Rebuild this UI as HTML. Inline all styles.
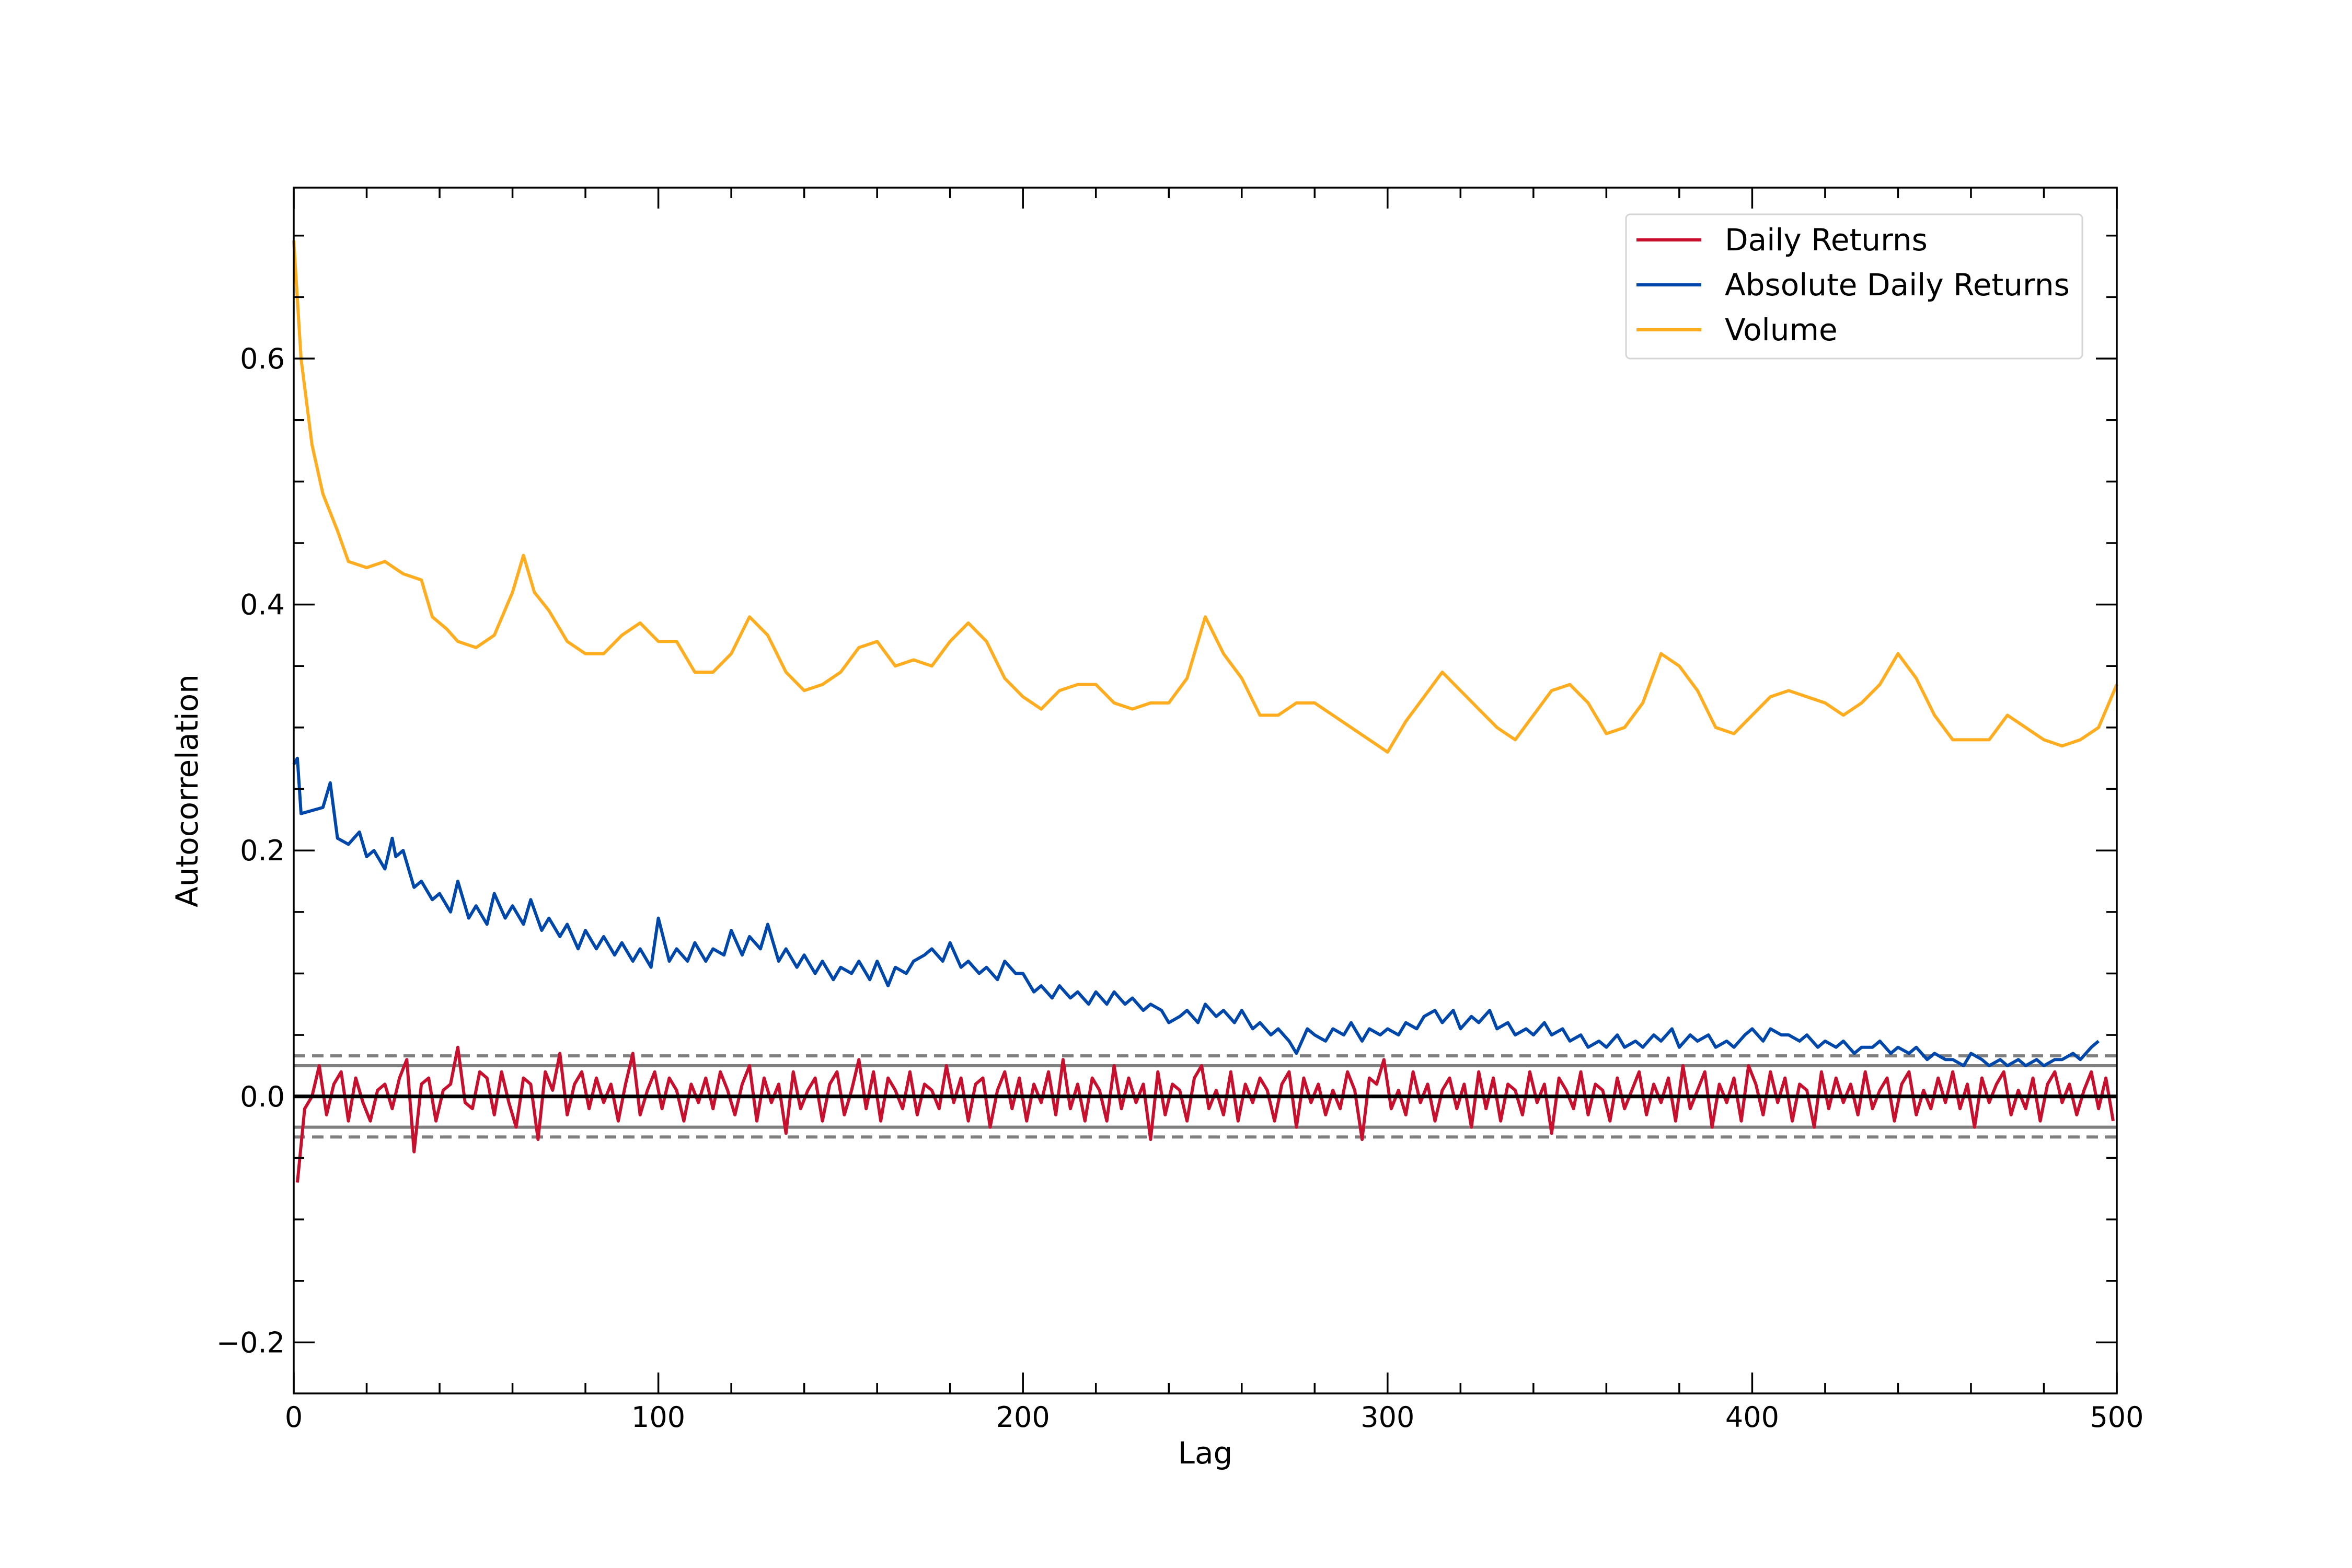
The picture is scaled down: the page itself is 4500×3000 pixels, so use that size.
<!DOCTYPE html>
<html><head><meta charset="utf-8"><style>
html,body{margin:0;padding:0;background:#fff;}
svg{display:block;font-family:"DejaVu Sans","Liberation Sans",sans-serif;}
</style></head><body>
<svg id="chart" width="4500" height="3000" viewBox="0 0 4500 3000" xmlns="http://www.w3.org/2000/svg">
<rect width="4500" height="3000" fill="#fff"/>
<g id="plot"></g>
<text x="2306" y="2800" font-size="58" text-anchor="middle">Lag</text>
<text x="378" y="1513" font-size="58" text-anchor="middle" transform="rotate(-90 378 1513)">Autocorrelation</text>
<g>
<rect x="3111" y="410" width="873" height="276" rx="8" fill="#fff" stroke="#d5d5d5" stroke-width="3"/>
<g><line x1="3131" x2="3255" y1="459" y2="459" stroke="#c8102e" stroke-width="6"/><text x="3300" y="479" font-size="58">Daily Returns</text></g>
<g><line x1="3131" x2="3255" y1="545" y2="545" stroke="#0047ab" stroke-width="6"/><text x="3300" y="565" font-size="58">Absolute Daily Returns</text></g>
<g><line x1="3131" x2="3255" y1="631" y2="631" stroke="#ffad1f" stroke-width="6"/><text x="3300" y="651" font-size="58">Volume</text></g>
</g>
</svg>
<script>
const xTicks = [0,100,200,300,400,500];
const yTicks = [-0.2,0,0.2,0.4,0.6];
const yTickLabels = ["\u22120.2","0.0","0.2","0.4","0.6"];
const volLags = [0,2,5,8,12,15,20,25,30,35,38,42,45,50,55,60,63,66,70,75,80,85,90,95,100,105,110,115,120,125,130,135,140,145,150,155,160,165,170,175,180,185,190,195,200,205,210,215,220,225,230,235,240,245,250,255,260,265,270,275,280,285,290,295,300,305,310,315,320,325,330,335,340,345,350,355,360,365,370,375,380,385,390,395,400,405,410,415,420,425,430,435,440,445,450,455,460,465,470,475,480,485,490,495,500];
const volume = [0.696,0.6,0.53,0.49,0.46,0.435,0.43,0.435,0.425,0.42,0.39,0.38,0.37,0.365,0.375,0.41,0.44,0.41,0.395,0.37,0.36,0.36,0.375,0.385,0.37,0.37,0.345,0.345,0.36,0.39,0.375,0.345,0.33,0.335,0.345,0.365,0.37,0.35,0.355,0.35,0.37,0.385,0.37,0.34,0.325,0.315,0.33,0.335,0.335,0.32,0.315,0.32,0.32,0.34,0.39,0.36,0.34,0.31,0.31,0.32,0.32,0.31,0.3,0.29,0.28,0.305,0.325,0.345,0.33,0.315,0.3,0.29,0.31,0.33,0.335,0.32,0.295,0.3,0.32,0.36,0.35,0.33,0.3,0.295,0.31,0.325,0.33,0.325,0.32,0.31,0.32,0.335,0.36,0.34,0.31,0.29,0.29,0.29,0.31,0.3,0.29,0.285,0.29,0.3,0.335];
const absLags = [0,1,2,8,10,12,15,18,20,22,25,27,28,30,33,35,38,40,43,45,48,50,53,55,58,60,63,65,68,70,73,75,78,80,83,85,88,90,93,95,98,100,103,105,108,110,113,115,118,120,123,125,128,130,133,135,138,140,143,145,148,150,153,155,158,160,163,165,168,170,173,175,178,180,183,185,188,190,193,195,198,200,203,205,208,210,213,215,218,220,223,225,228,230,233,235,238,240,243,245,248,250,253,255,258,260,263,265,268,270,273,275,278,280,283,285,288,290,293,295,298,300,303,305,308,310,313,315,318,320,323,325,328,330,333,335,338,340,343,345,348,350,353,355,358,360,363,365,368,370,373,375,378,380,383,385,388,390,393,395,398,400,403,405,408,410,413,415,418,420,423,425,428,430,433,435,438,440,443,445,448,450,453,455,458,460,463,465,468,470,473,475,478,480,483,485,488,490,493,495,498,500];
const absRet = [0.27,0.275,0.23,0.235,0.255,0.21,0.205,0.215,0.195,0.2,0.185,0.21,0.195,0.2,0.17,0.175,0.16,0.165,0.15,0.175,0.145,0.155,0.14,0.165,0.145,0.155,0.14,0.16,0.135,0.145,0.13,0.14,0.12,0.135,0.12,0.13,0.115,0.125,0.11,0.12,0.105,0.145,0.11,0.12,0.11,0.125,0.11,0.12,0.115,0.135,0.115,0.13,0.12,0.14,0.11,0.12,0.105,0.115,0.1,0.11,0.095,0.105,0.1,0.11,0.095,0.11,0.09,0.105,0.1,0.11,0.115,0.12,0.11,0.125,0.105,0.11,0.1,0.105,0.095,0.11,0.1,0.1,0.085,0.09,0.08,0.09,0.08,0.085,0.075,0.085,0.075,0.085,0.075,0.08,0.07,0.075,0.07,0.06,0.065,0.07,0.06,0.075,0.065,0.07,0.06,0.07,0.055,0.06,0.05,0.055,0.045,0.035,0.055,0.05,0.045,0.055,0.05,0.06,0.045,0.055,0.05,0.055,0.05,0.06,0.055,0.065,0.07,0.06,0.07,0.055,0.065,0.06,0.07,0.055,0.06,0.05,0.055,0.05,0.06,0.05,0.055,0.045,0.05,0.04,0.045,0.04,0.05,0.04,0.045,0.04,0.05,0.045,0.055,0.04,0.05,0.045,0.05,0.04,0.045,0.04,0.05,0.055,0.045,0.055,0.05,0.05,0.045,0.05,0.04,0.045,0.04,0.045,0.035,0.04,0.04,0.045,0.035,0.04,0.035,0.04,0.03,0.035,0.03,0.03,0.025,0.035,0.03,0.025,0.03,0.025,0.03,0.025,0.03,0.025,0.03,0.03,0.035,0.03,0.04,0.045];
const dailyLags = [1,3,5,7,9,11,13,15,17,19,21,23,25,27,29,31,33,35,37,39,41,43,45,47,49,51,53,55,57,59,61,63,65,67,69,71,73,75,77,79,81,83,85,87,89,91,93,95,97,99,101,103,105,107,109,111,113,115,117,119,121,123,125,127,129,131,133,135,137,139,141,143,145,147,149,151,153,155,157,159,161,163,165,167,169,171,173,175,177,179,181,183,185,187,189,191,193,195,197,199,201,203,205,207,209,211,213,215,217,219,221,223,225,227,229,231,233,235,237,239,241,243,245,247,249,251,253,255,257,259,261,263,265,267,269,271,273,275,277,279,281,283,285,287,289,291,293,295,297,299,301,303,305,307,309,311,313,315,317,319,321,323,325,327,329,331,333,335,337,339,341,343,345,347,349,351,353,355,357,359,361,363,365,367,369,371,373,375,377,379,381,383,385,387,389,391,393,395,397,399,401,403,405,407,409,411,413,415,417,419,421,423,425,427,429,431,433,435,437,439,441,443,445,447,449,451,453,455,457,459,461,463,465,467,469,471,473,475,477,479,481,483,485,487,489,491,493,495,497,499];
const dailyRet = [-0.07,-0.01,0.0,0.025,-0.015,0.01,0.02,-0.02,0.015,-0.005,-0.02,0.005,0.01,-0.01,0.015,0.03,-0.045,0.01,0.015,-0.02,0.005,0.01,0.04,-0.005,-0.01,0.02,0.015,-0.015,0.02,-0.005,-0.025,0.015,0.01,-0.035,0.02,0.005,0.035,-0.015,0.01,0.02,-0.01,0.015,-0.005,0.01,-0.02,0.01,0.035,-0.015,0.005,0.02,-0.01,0.015,0.005,-0.02,0.01,-0.005,0.015,-0.01,0.02,0.005,-0.015,0.01,0.025,-0.02,0.015,-0.005,0.01,-0.03,0.02,-0.01,0.005,0.015,-0.02,0.01,0.02,-0.015,0.005,0.03,-0.01,0.02,-0.02,0.015,0.005,-0.01,0.02,-0.015,0.01,0.005,-0.01,0.025,-0.005,0.015,-0.02,0.01,0.015,-0.025,0.005,0.02,-0.01,0.015,-0.02,0.01,-0.005,0.02,-0.015,0.03,-0.01,0.01,-0.02,0.015,0.005,-0.02,0.025,-0.01,0.015,-0.005,0.01,-0.035,0.02,-0.015,0.01,0.005,-0.02,0.015,0.025,-0.01,0.005,-0.015,0.02,-0.02,0.01,-0.005,0.015,0.005,-0.02,0.01,0.02,-0.025,0.015,-0.005,0.01,-0.015,0.005,-0.01,0.02,0.005,-0.035,0.015,0.01,0.03,-0.01,0.005,-0.015,0.02,-0.005,0.01,-0.02,0.005,0.015,-0.01,0.01,-0.025,0.02,-0.01,0.015,-0.02,0.01,0.005,-0.015,0.02,-0.005,0.01,-0.03,0.015,0.005,-0.01,0.02,-0.015,0.01,0.005,-0.02,0.015,-0.01,0.005,0.02,-0.015,0.01,-0.005,0.015,-0.02,0.025,-0.01,0.005,0.02,-0.025,0.01,-0.005,0.015,-0.02,0.025,0.01,-0.015,0.02,-0.005,0.015,-0.02,0.01,0.005,-0.025,0.02,-0.01,0.015,-0.005,0.01,-0.015,0.02,-0.01,0.005,0.015,-0.02,0.01,0.02,-0.015,0.005,-0.01,0.015,-0.005,0.02,-0.01,0.01,-0.025,0.015,-0.005,0.01,0.02,-0.015,0.005,-0.01,0.015,-0.02,0.01,0.02,-0.005,0.01,-0.015,0.005,0.02,-0.01,0.015,-0.02,0.01];
const bandInner = 0.025;
const bandOuter = 0.033;

const L=562,R=4050,T=359,B=2666,X0=0,X1=500,Y0=-0.2415,Y1=0.739;
const sx=v=>L+(v-X0)/(X1-X0)*(R-L);
const sy=v=>T+(Y1-v)/(Y1-Y0)*(B-T);
const NS='http://www.w3.org/2000/svg';
const plot=document.getElementById('plot');
function mk(tag,attrs,parent){const e=document.createElementNS(NS,tag);for(const k in attrs)e.setAttribute(k,attrs[k]);(parent||plot).appendChild(e);return e;}
function pts(xs,ys){return xs.map((x,i)=>sx(x).toFixed(1)+','+sy(ys[i]).toFixed(1)).join(' ');}

let e;
e=mk('line',{x1:L,x2:R,y1:sy(bandOuter),y2:sy(bandOuter),stroke:'#808080','stroke-width':6,'stroke-dasharray':'22 13'});


e=mk('line',{x1:L,x2:R,y1:sy(-bandOuter),y2:sy(-bandOuter),stroke:'#808080','stroke-width':6,'stroke-dasharray':'22 13'});


e=mk('line',{x1:L,x2:R,y1:sy(bandInner),y2:sy(bandInner),stroke:'#808080','stroke-width':6});


e=mk('line',{x1:L,x2:R,y1:sy(-bandInner),y2:sy(-bandInner),stroke:'#808080','stroke-width':6});



e=mk('polyline',{points:pts(volLags,volume),fill:'none',stroke:'#ffad1f','stroke-width':6,'stroke-linejoin':'round'});


e=mk('polyline',{points:pts(absLags,absRet),fill:'none',stroke:'#0047ab','stroke-width':6,'stroke-linejoin':'round'});


e=mk('polyline',{points:pts(dailyLags,dailyRet),fill:'none',stroke:'#c8102e','stroke-width':6,'stroke-linejoin':'round'});


e=mk('line',{x1:L,x2:R,y1:sy(0),y2:sy(0),stroke:'#000','stroke-width':7});



for(let v=0;v<=500;v+=20){const major=v%100===0;const len=major?40:20;
 e=mk('line',{x1:sx(v),x2:sx(v),y1:B,y2:B-len,stroke:'#000','stroke-width':3.5});
 
 
 e=mk('line',{x1:sx(v),x2:sx(v),y1:T,y2:T+len,stroke:'#000','stroke-width':3.5});
 
 
}
for(let i=-4;i<=14;i++){const v=i*0.05;if(v<Y0||v>Y1)continue;const major=i%4===0;const len=major?40:20;
 e=mk('line',{x1:L,x2:L+len,y1:sy(v),y2:sy(v),stroke:'#000','stroke-width':3.5});
 
 
 e=mk('line',{x1:R,x2:R-len,y1:sy(v),y2:sy(v),stroke:'#000','stroke-width':3.5});
 
 
}
xTicks.forEach(v=>{e=mk('text',{x:sx(v),y:B+64,'font-size':54,'text-anchor':'middle'});e.textContent=String(v);
 
 });
yTicks.forEach((v,i)=>{e=mk('text',{x:L-17,y:sy(v)+19,'font-size':54,'text-anchor':'end'});e.textContent=yTickLabels[i];
 
 });
e=mk('rect',{x:L,y:T,width:R-L,height:B-T,fill:'none',stroke:'#000','stroke-width':3.5});


</script>
</body></html>
